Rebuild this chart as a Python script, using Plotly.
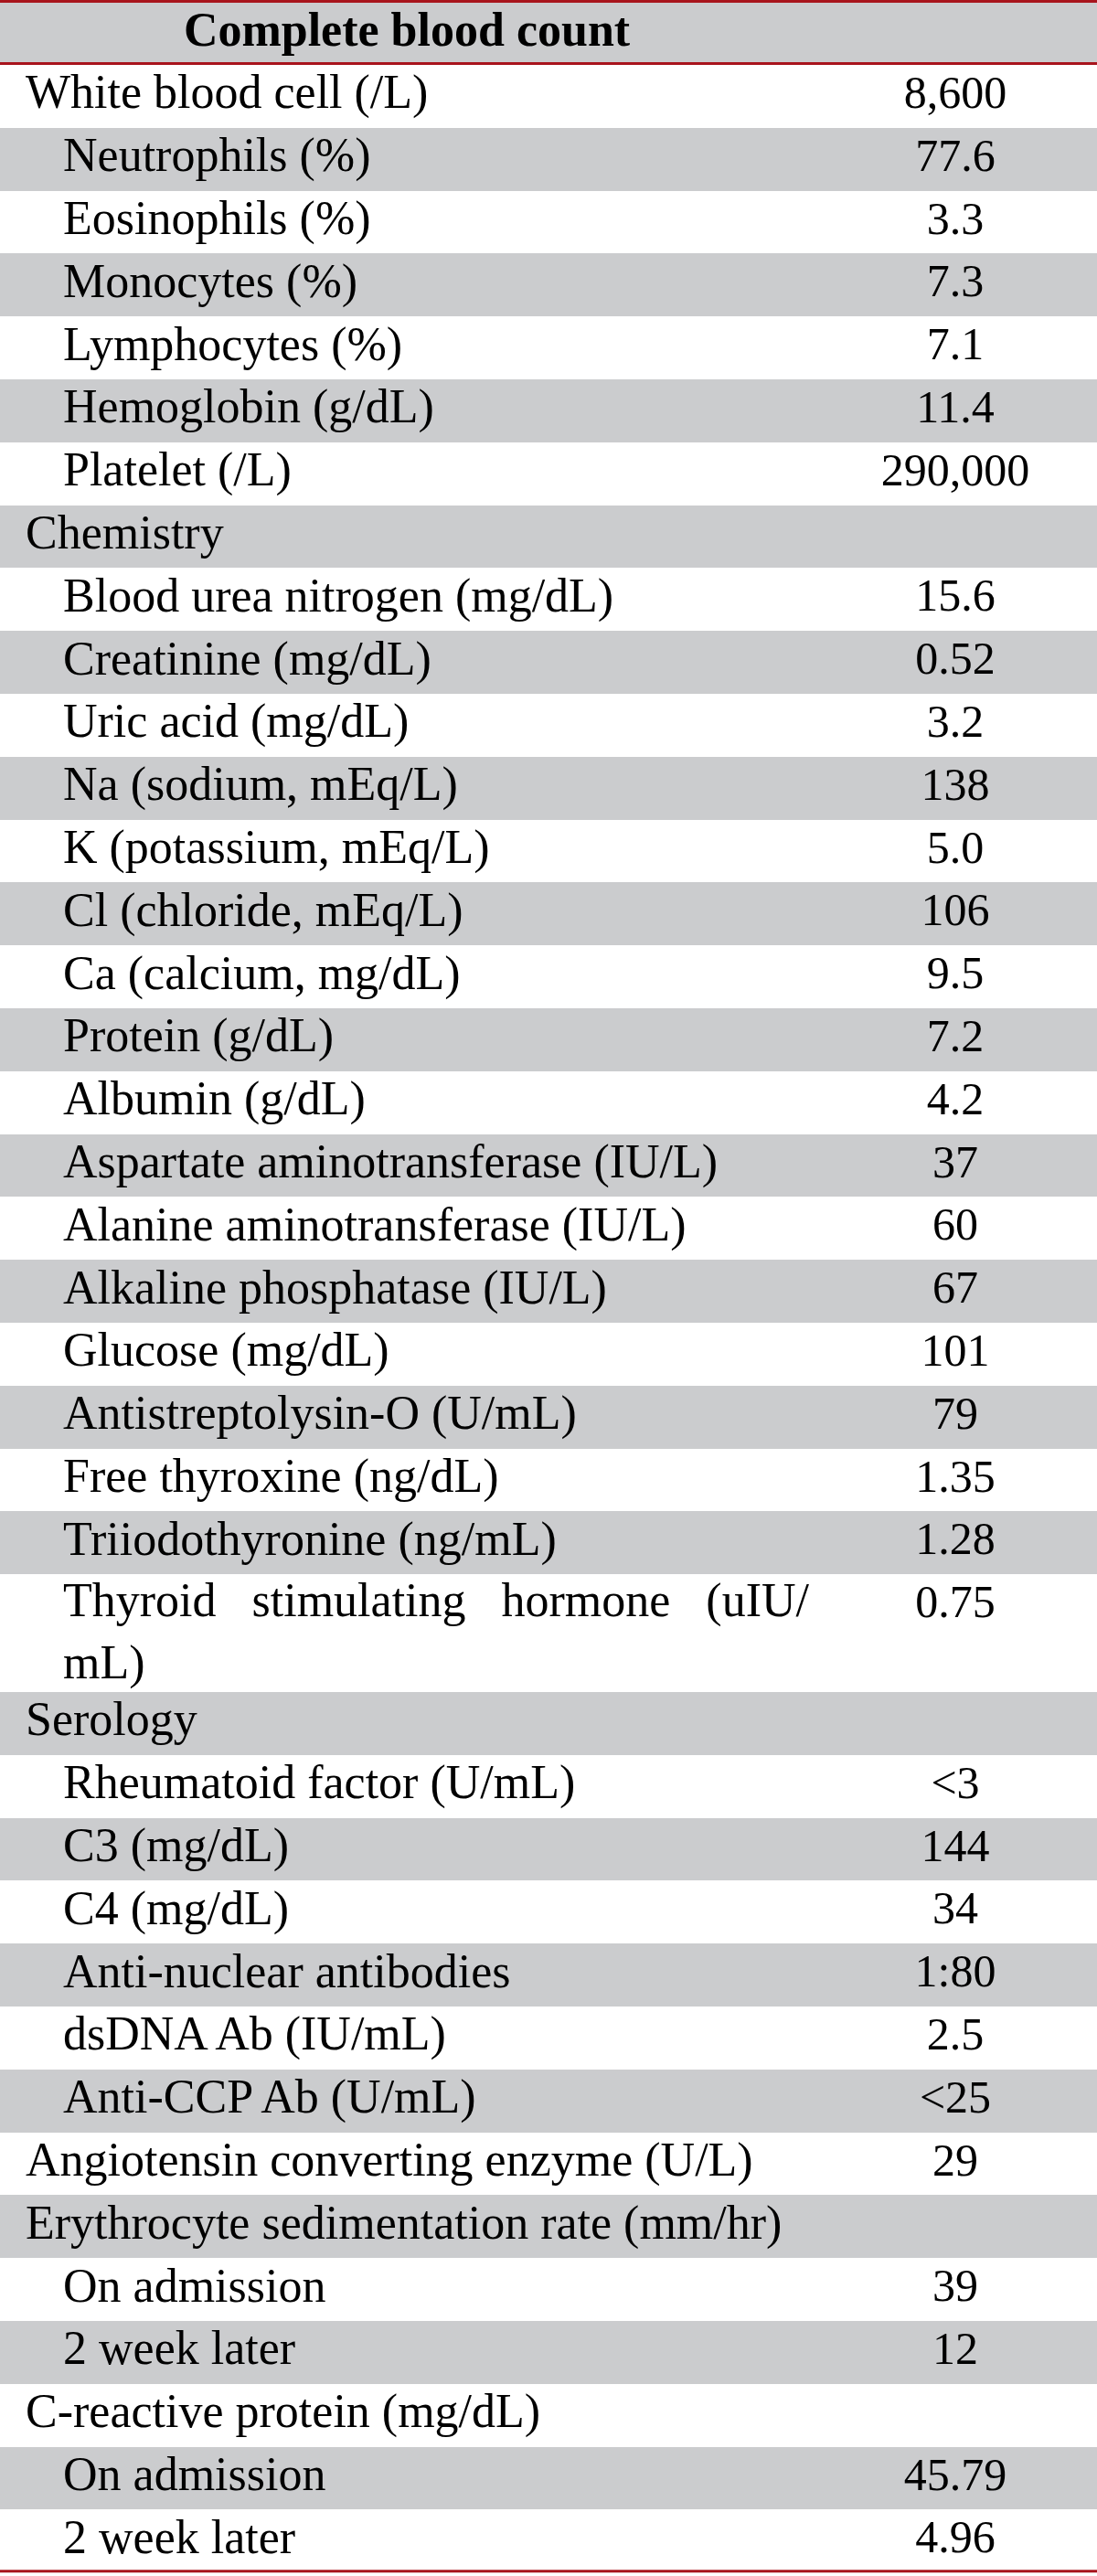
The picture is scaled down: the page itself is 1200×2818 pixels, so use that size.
import plotly.graph_objects as go

# ---- data ----
header_title = "Complete blood count"
labels = [
    "White blood cell (/L)", "Neutrophils (%)", "Eosinophils (%)", "Monocytes (%)",
    "Lymphocytes (%)", "Hemoglobin (g/dL)", "Platelet (/L)", "Chemistry",
    "Blood urea nitrogen (mg/dL)", "Creatinine (mg/dL)", "Uric acid (mg/dL)",
    "Na (sodium, mEq/L)", "K (potassium, mEq/L)", "Cl (chloride, mEq/L)",
    "Ca (calcium, mg/dL)", "Protein (g/dL)", "Albumin (g/dL)",
    "Aspartate aminotransferase (IU/L)", "Alanine aminotransferase (IU/L)",
    "Alkaline phosphatase (IU/L)", "Glucose (mg/dL)", "Antistreptolysin-O (U/mL)",
    "Free thyroxine (ng/dL)", "Triiodothyronine (ng/mL)",
    "Thyroid stimulating hormone (uIU/<br>mL)", "Serology",
    "Rheumatoid factor (U/mL)", "C3 (mg/dL)", "C4 (mg/dL)", "Anti-nuclear antibodies",
    "dsDNA Ab (IU/mL)", "Anti-CCP Ab (U/mL)", "Angiotensin converting enzyme (U/L)",
    "Erythrocyte sedimentation rate (mm/hr)", "On admission", "2 week later",
    "C-reactive protein (mg/dL)", "On admission", "2 week later",
]
levels = [0, 1, 1, 1, 1, 1, 1, 0,
          1, 1, 1, 1, 1, 1, 1, 1, 1, 1, 1, 1, 1, 1, 1, 1, 1, 0,
          1, 1, 1, 1, 1, 1, 0, 0, 1, 1, 0, 1, 1]
values = [
    "8,600", "77.6", "3.3", "7.3", "7.1", "11.4", "290,000", "",
    "15.6", "0.52", "3.2", "138", "5.0", "106", "9.5", "7.2", "4.2", "37", "60",
    "67", "101", "79", "1.35", "1.28", "0.75", "",
    "&lt;3", "144", "34", "1:80", "2.5", "&lt;25", "29", "", "39", "12", "", "45.79", "4.96",
]

# ---- styling / layout ----
W, H = 1200, 2818
GRAY = "#cbccce"
RED = "#a8141c"
FONT = "Liberation Serif"
FS_LABEL = 52
FS_VALUE = 50
HEAD_H = 71
ROW_H = 68.8
LINE_STEP = 65          # spacing between text lines in a wrapped cell
INDENT_X = {0: 28, 1: 69}
VALUE_X = 1045
TITLE_X = 445
NB = "\u00a0"

n = len(labels)
nlines = [t.count("<br>") + 1 for t in labels]
heights = [ROW_H + (k - 1) * (LINE_STEP - 5) for k in nlines]
tops = []
acc = HEAD_H
for h in heights:
    tops.append(acc)
    acc += h
centers = [t + h / 2 for t, h in zip(tops, heights)]
first_line = [t + ROW_H / 2 for t in tops]
label_y = [fl + (k - 1) * LINE_STEP / 2 for fl, k in zip(first_line, nlines)]
table_bottom = acc


def justify(t):
    parts = t.split("<br>")
    return "<br>".join([p.replace(" ", NB * 3) for p in parts[:-1]] + parts[-1:])


label_text = [justify(t) for t in labels]
fills = ["white" if i % 2 == 0 else GRAY for i in range(n)]

fig = go.Figure()
# header background
fig.add_trace(go.Bar(y=[HEAD_H / 2], x=[W], base=0, width=[HEAD_H], orientation="h",
                     marker=dict(color=GRAY, line=dict(width=0)), hoverinfo="skip"))
# row backgrounds
fig.add_trace(go.Bar(y=centers, x=[W] * n, base=0, width=heights, orientation="h",
                     marker=dict(color=fills, line=dict(width=0)), hoverinfo="skip"))
# header title
fig.add_trace(go.Scatter(x=[TITLE_X], y=[HEAD_H / 2 + 1], mode="text",
                         text=["<b>" + header_title + "</b>"], textposition="middle center",
                         textfont=dict(family=FONT, size=FS_LABEL, color="black"),
                         hoverinfo="skip"))
# labels
fig.add_trace(go.Scatter(x=[INDENT_X[l] for l in levels], y=label_y, mode="text",
                         text=label_text, textposition="middle right",
                         textfont=dict(family=FONT, size=FS_LABEL, color="black"),
                         hoverinfo="skip"))
# values
fig.add_trace(go.Scatter(x=[VALUE_X] * n, y=first_line, mode="text",
                         text=values, textposition="middle center",
                         textfont=dict(family=FONT, size=FS_VALUE, color="black"),
                         hoverinfo="skip"))

# red rules: top, under header, bottom
for yy in [1.5, HEAD_H - 1.5, table_bottom - 1.5]:
    fig.add_shape(type="line", xref="x", yref="y", x0=0, x1=W, y0=yy, y1=yy,
                  line=dict(color=RED, width=3), layer="above")

fig.update_xaxes(range=[0, W], visible=False, fixedrange=True)
fig.update_yaxes(range=[H, 0], visible=False, fixedrange=True)
fig.update_layout(width=W, height=H, margin=dict(l=0, r=0, t=0, b=0),
                  paper_bgcolor="white", plot_bgcolor="white",
                  showlegend=False, bargap=0)
fig.write_html("out.html", config={"displayModeBar": False},
               post_script="document.body.style.margin='0';document.body.style.padding='0';")
